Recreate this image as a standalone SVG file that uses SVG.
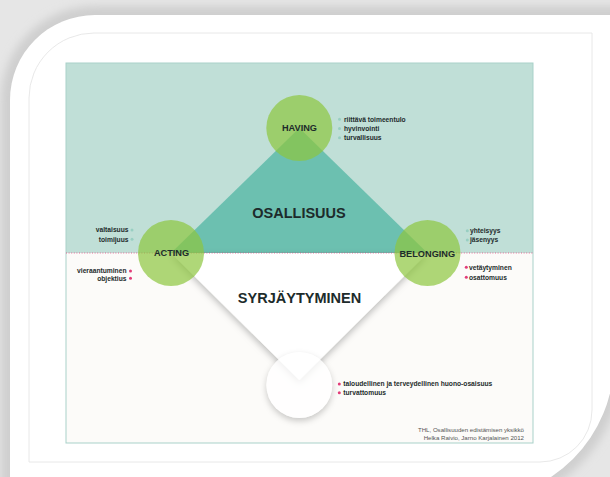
<svg xmlns="http://www.w3.org/2000/svg" width="610" height="477" viewBox="0 0 610 477">
  <defs>
    <style>
      .lbl { font-family: "Liberation Sans", Arial, sans-serif; font-weight: bold; fill: #1d2b2b; text-anchor: middle; }
      .node-label { font-size: 9.2px; }
      .area-label { font-size: 14.5px; }
      .item { font-family: "Liberation Sans", Arial, sans-serif; font-weight: bold; font-size: 6.7px; fill: #1d2b2b; }
      .item-r { text-anchor: end; }
      .credit { font-family: "Liberation Sans", Arial, sans-serif; font-size: 6.1px; fill: #555; text-anchor: end; }
      .dot-pos { fill: #98cfc2; }
      .dot-neg { fill: #e23b78; }
      .node-circle { fill: #8dc63f; fill-opacity: 0.7; }
    </style>
    <filter id="blurFrame" x="-10%" y="-10%" width="120%" height="120%">
      <feGaussianBlur stdDeviation="4"/>
    </filter>
    <filter id="blurSoft" x="-30%" y="-30%" width="160%" height="160%">
      <feGaussianBlur stdDeviation="3"/>
    </filter>
    <filter id="dropShadow" x="-20%" y="-20%" width="140%" height="160%">
      <feGaussianBlur in="SourceAlpha" stdDeviation="3.5"/>
      <feOffset dx="0" dy="3" result="off"/>
      <feFlood flood-color="#000" flood-opacity="0.26"/>
      <feComposite in2="off" operator="in"/>
      <feMerge>
        <feMergeNode/>
        <feMergeNode in="SourceGraphic"/>
      </feMerge>
    </filter>
    <mask id="outsideBottomCircle">
      <rect x="0" y="0" width="610" height="477" fill="#fff"/>
      <circle cx="299.3" cy="385" r="33" fill="#000"/>
    </mask>
  </defs>

  <!-- page background with rounded white card -->
  <rect x="0" y="0" width="610" height="477" fill="#e6e6e6"/>
  <path d="M10,500 V100 A85,85 0 0 1 95,15 H614 V360 A140,140 0 0 1 474,500 Z" fill="#cfcfcf" stroke="#cfcfcf" stroke-width="18" filter="url(#blurFrame)"/>
  <path d="M10,500 V100 A85,85 0 0 1 95,15 H614 V360 A140,140 0 0 1 474,500 Z" fill="#ffffff"/>
  <path d="M29,462 V98 A65,65 0 0 1 94,33 H592 V410 A52,52 0 0 1 540,462 Z" fill="none" stroke="#e2e2e2" stroke-width="0.8"/>

  <!-- diagram panel -->
  <g id="panel">
    <rect x="66" y="63" width="467" height="190" fill="#c0dfd7"/>
    <rect x="66" y="253" width="467" height="190" fill="#fcfbf9"/>
    <rect x="66" y="63" width="467" height="380" fill="none" stroke="#a9d1c9" stroke-width="1"/>
  </g>

  <!-- the two areas spanned by the nodes -->
  <g id="areas">
    <g id="area-osallisuus">
      <polygon points="299.3,128 171,253 427.5,253" fill="#6cc0b0"/>
      <text class="lbl area-label" x="299" y="217.5">OSALLISUUS</text>
    </g>
    <g id="area-syrjaytyminen">
      <polygon points="171,253 427.5,253 299.3,380" fill="#ffffff" filter="url(#dropShadow)"/>
      <text class="lbl area-label" x="299.5" y="302.5">SYRJÄYTYMINEN</text>
    </g>
  </g>

  <!-- dotted divider -->
  <line x1="66" y1="253" x2="533" y2="253" stroke="#e0407a" stroke-width="0.9" stroke-dasharray="1 1.6" stroke-opacity="0.85"/>

  <g id="node-having">
    <circle class="node-circle" cx="299.3" cy="128" r="33"/>
    <text class="lbl node-label" x="299.5" y="130.8">HAVING</text>
    <circle class="dot-pos" cx="339.5" cy="119.3" r="1.5"/>
    <text class="item" x="344" y="121.6">riittävä toimeentulo</text>
    <circle class="dot-pos" cx="339.5" cy="128.5" r="1.5"/>
    <text class="item" x="344" y="130.8">hyvinvointi</text>
    <circle class="dot-pos" cx="339.5" cy="137.7" r="1.5"/>
    <text class="item" x="344" y="140">turvallisuus</text>
  </g>

  <g id="node-acting">
    <circle class="node-circle" cx="171" cy="253" r="33"/>
    <text class="lbl node-label" x="171.5" y="256.3">ACTING</text>
    <text class="item item-r" x="128.5" y="232.3">valtaisuus</text>
    <circle class="dot-pos" cx="132" cy="230" r="1.5"/>
    <text class="item item-r" x="128.5" y="241.6">toimijuus</text>
    <circle class="dot-pos" cx="132" cy="239.3" r="1.5"/>
    <text class="item item-r" x="126.5" y="273.3">vieraantuminen</text>
    <circle class="dot-neg" cx="130.5" cy="271" r="1.5"/>
    <text class="item item-r" x="126.5" y="280.6">objektius</text>
    <circle class="dot-neg" cx="130.5" cy="278.3" r="1.5"/>
  </g>

  <g id="node-belonging">
    <circle class="node-circle" cx="427.5" cy="253" r="33"/>
    <text class="lbl node-label" x="427.3" y="256.5">BELONGING</text>
    <circle class="dot-pos" cx="467.3" cy="230.7" r="1.5"/>
    <text class="item" x="470" y="233">yhteisyys</text>
    <circle class="dot-pos" cx="467.3" cy="240" r="1.5"/>
    <text class="item" x="470" y="242.3">jäsenyys</text>
    <circle class="dot-neg" cx="466.3" cy="267.3" r="1.5"/>
    <text class="item" x="469" y="269.6">vetäytyminen</text>
    <circle class="dot-neg" cx="466.3" cy="277.3" r="1.5"/>
    <text class="item" x="469" y="279.6">osattomuus</text>
  </g>

  <g id="node-empty">
    <circle cx="299.3" cy="388" r="33" fill="#000" fill-opacity="0.2" filter="url(#blurSoft)" mask="url(#outsideBottomCircle)"/>
    <circle cx="299.3" cy="385" r="33" fill="#ffffff" fill-opacity="0.78"/>
    <circle class="dot-neg" cx="339.3" cy="384" r="1.5"/>
    <text class="item" x="343.3" y="386.3">taloudellinen ja terveydellinen huono-osaisuus</text>
    <circle class="dot-neg" cx="339.3" cy="392.7" r="1.5"/>
    <text class="item" x="343.3" y="395">turvattomuus</text>
  </g>

  <g id="credits">
    <text class="credit" x="524" y="432">THL, Osallisuuden edistämisen yksikkö</text>
    <text class="credit" x="524" y="439.5">Helka Raivio, Jarno Karjalainen 2012</text>
  </g>
</svg>
